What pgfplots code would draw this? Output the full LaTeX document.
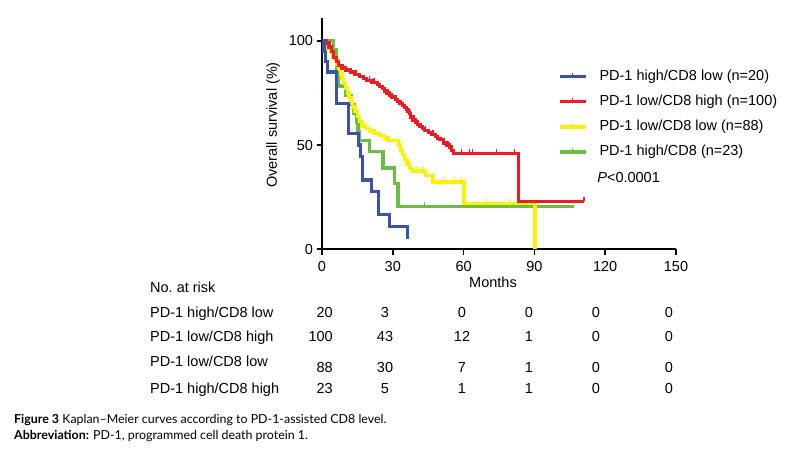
\documentclass[border=0pt]{standalone}
\usepackage{fontspec}
\setmainfont{Liberation Sans}
\newfontfamily\capfont{Lato}
\usepackage{pgfplots}
\pgfplotsset{compat=1.18}

\definecolor{kmblue}{RGB}{58,83,164}
\definecolor{kmred}{RGB}{237,28,36}
\definecolor{kmyellow}{RGB}{255,242,0}
\definecolor{kmgreen}{RGB}{106,189,69}

% censoring tick: short stroke upwards from the curve
\pgfdeclareplotmark{cens}{%
  \pgfpathmoveto{\pgfpointorigin}%
  \pgfpathlineto{\pgfpoint{0pt}{4.5pt}}%
  \pgfusepathqstroke}

\newcommand{\fs}{\fontsize{14.5}{17}\selectfont}

\begin{document}
\begin{tikzpicture}[x=1pt,y=1pt]
\useasboundingbox (0,0) rectangle (785,449);
\begin{axis}[
  at={(322pt,199.7pt)}, anchor=south west,
  scale only axis, width=354pt, height=231.2pt,
  xmin=0, xmax=150, ymin=0, ymax=110.9,
  axis x line*=bottom, axis y line*=left,
  axis line style={line width=1.8pt},
  xtick={0,30,...,150}, ytick={0,50,100},
  tick align=outside, major tick length=5.5pt,
  tick style={line width=1.6pt, black},
  ticklabel style={font=\fs},
  xticklabel style={yshift=-3.5pt},
  /pgf/number format/assume math mode=true,
  clip=false,
  reverse legend,
  legend style={draw=none, fill=none, at={(axis cs:100,86.2)}, anchor=north west,
    inner sep=0pt, row sep=11.7pt, font=\fs,
    nodes={inner sep=0pt, text height=10.5pt, text depth=3pt},
    /tikz/every odd column/.append style={column sep=12pt}},
  legend cell align=left,
  legend image code/.code={
    \draw[line width=3.3pt] (0pt,0pt) -- (26pt,0pt);
    \draw[line width=1.2pt] (13pt,0pt) -- (13pt,4pt);},
  every axis plot/.append style={line width=3.3pt, const plot, mark=none},
]
% drawn green, yellow, red, blue; legend reversed
\addplot[kmgreen] coordinates {
(0,100)(5,95.7)(6.2,87)(7,78.3)(10,73.9)(12.3,69.6)(13.5,65.2)(14.5,60.9)
(15.3,56.5)(16,52.2)(20.2,47)(25.8,39)(30.6,31.5)(32.2,20.5)(106.8,20.5)};
\addlegendentry{PD-1 high/CD8 (n=23)}
\addplot[kmyellow] coordinates {
(0,100)(1.7,98.9)(2.5,96.6)(3.5,94.3)(4.5,92)(5.5,90.9)(6.3,88.6)(7,86.4)
(7.8,84.1)(8.5,81.8)(9.2,79.5)(10,77.3)(10.8,75)(11.5,72.7)(12.3,70.5)(13,68.2)
(14,66)(15,63.6)(16,61.4)(17,59.1)(18.5,58)(20,56.8)(22,55.7)(24.5,54.5)
(26.5,53.4)(28,52.3)(32.5,50)(33.2,47.7)(34,45.5)(35,43.2)(36,40.9)(37,38.6)
(38.5,37.5)(44,35.5)(47,32.3)(60.2,22)(90.2,0)};
\addlegendentry{PD-1 low/CD8 low (n=88)}
\addplot[kmred] coordinates {
(0,100)(2,99)(3,97)(4,95)(5,92)(6,90)(7,88)(8.5,87)(10,86)(12,85)(14,84)
(16,83)(17.5,82)(19,81)(21,80)(23.5,79)(24.5,78)(25.5,77)(26.5,76)(27.5,75)
(28.5,74)(29.5,73)(31,72)(32,71)(33,70)(34,69)(35,68)(35.8,67)(36.5,66)(37,65)
(37.5,63.5)(38.5,62)(39.5,61)(40.5,60)(41.5,59)(42.5,58)(43.5,57)(45,56)
(46.5,55)(48,54)(49,53)(50,52.5)(51.5,51)(53,50)(54,49)(55,47.5)(55.7,46)
(83.3,23)(111,23)};
\addlegendentry{PD-1 low/CD8 high (n=100)}
\addplot[kmblue] coordinates {
(0,100)(0.8,95)(1.6,90)(2.4,85)(6.2,70)(11.3,55.5)(15.5,50)(16.3,44.4)
(17.2,33.3)(21.1,27.7)(24,16.6)(28.6,11)(36.3,5.5)(36.9,5.5)};
\addlegendentry{PD-1 high/CD8 low (n=20)}
% censoring marks
\addplot[forget plot, only marks, mark=cens, kmred, line width=1.2pt] coordinates {
(20,81)(22,80)(30,73)(38,63.5)(44,57)(47,55)(52,51)
(59,46)(62.5,46)(63.9,46)(73.8,46)(81.5,46)(111,23)};
\addplot[forget plot, only marks, mark=cens, kmyellow, line width=1.2pt] coordinates {
(40,37.5)(42,37.5)(43,37.5)(52,32.3)(56.2,32.3)(59,32.3)(69.6,22)(79.4,22)};
\addplot[forget plot, only marks, mark=cens, kmgreen, line width=1.2pt] coordinates {
(43.5,20.5)};
\node[anchor=west, font=\fs, inner sep=0pt] at (axis cs:116.6,34.2) {\textit{P}<0.0001};
\end{axis}
% axis titles
\node[font=\fs] at (493,167) {Months};
\node[font=\fs, rotate=90] at (273,324) {Overall survival (\%)};
% number at risk table
\begin{scope}[every node/.style={font=\fs, inner sep=0pt}]
\node[anchor=base west] at (150,156.5) {No.\ at risk};
\node[anchor=base west] at (150,131.1) {PD-1 high/CD8 low};
\node[anchor=base west] at (150,107.1) {PD-1 low/CD8 high};
\node[anchor=base west] at (150,82.1) {PD-1 low/CD8 low};
\node[anchor=base west] at (150,55.5) {PD-1 high/CD8 high};
\foreach \y/\a/\b/\c/\d/\e/\f in {131.1/20/3/0/0/0/0, 107.1/100/43/12/1/0/0,
    76.5/88/30/7/1/0/0, 55.5/23/5/1/1/0/0}{
  \node[anchor=base east] at (333,\y) {\a};
  \node[anchor=base] at (385,\y) {\b};
  \node[anchor=base] at (462,\y) {\c};
  \node[anchor=base] at (529,\y) {\d};
  \node[anchor=base] at (596,\y) {\e};
  \node[anchor=base] at (669,\y) {\f};
}
\end{scope}
% caption
\node[anchor=base west, inner sep=0pt, font=\capfont\fontsize{12.4}{14}\selectfont] at (14,25.7)
  {\textbf{Figure 3} Kaplan–Meier curves according to PD-1-assisted CD8 level.};
\node[anchor=base west, inner sep=0pt, font=\capfont\fontsize{12.4}{14}\selectfont] at (14,9)
  {\textbf{Abbreviation:} PD-1, programmed cell death protein 1.};
\end{tikzpicture}
\end{document}
